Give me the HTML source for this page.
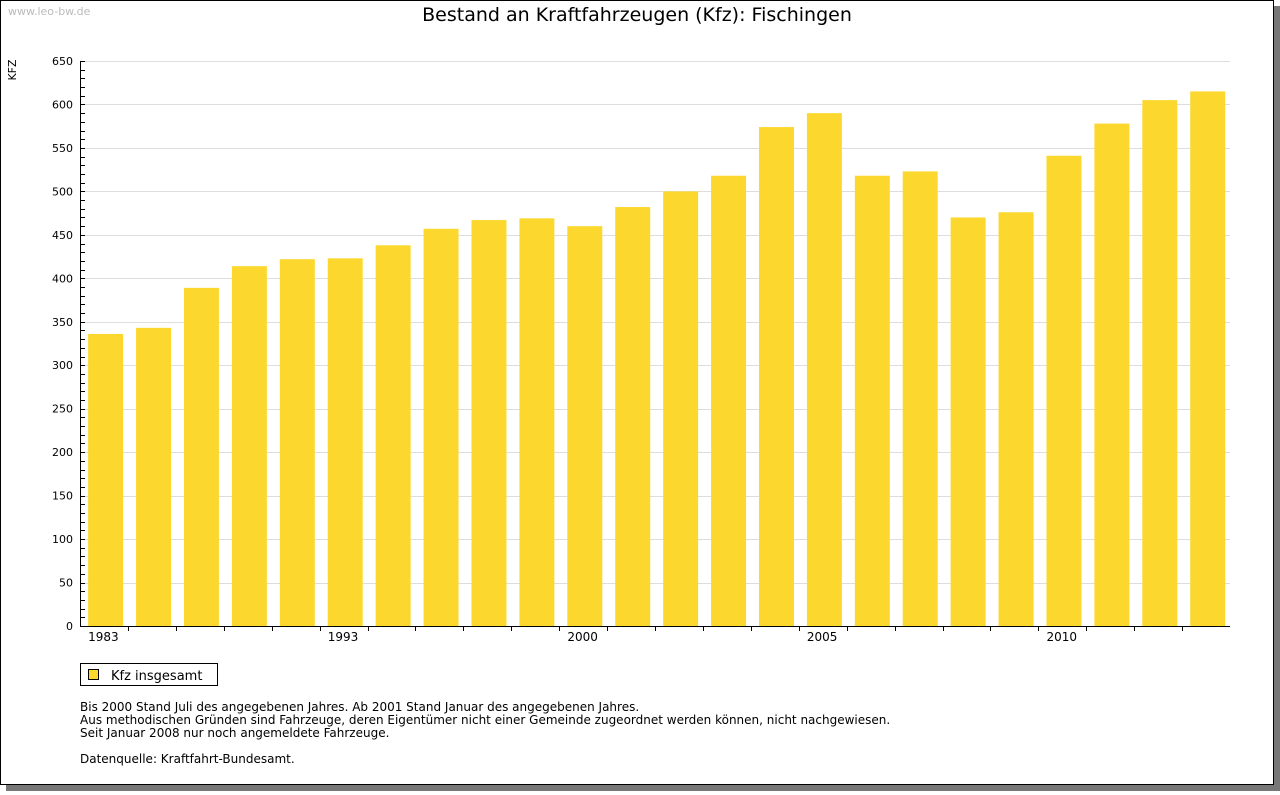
<!DOCTYPE html>
<html><head><meta charset="utf-8"><style>
body{margin:0;background:#fff;width:1280px;height:791px;overflow:hidden;font-family:"DejaVu Sans","Liberation Sans",sans-serif;}
</style></head><body>
<svg width="1280" height="791" font-family="DejaVu Sans, Liberation Sans, sans-serif">
<rect x="6" y="6" width="1274" height="785" fill="#777"/>
<rect x="0.5" y="0.5" width="1273" height="784" fill="#fff" stroke="#000"/>
<text x="8" y="15" font-size="11" fill="#bbb">www.leo-bw.de</text>
<text x="637" y="21" font-size="19" text-anchor="middle">Bestand an Kraftfahrzeugen (Kfz): Fischingen</text>
<text transform="translate(16,70) rotate(-90)" font-size="11" text-anchor="middle">KFZ</text>
<g id="grid"></g><g id="bars"></g><g id="axes"></g>
<rect x="80.5" y="663.5" width="137" height="22" fill="#fff" stroke="#000"/>
<rect x="88.5" y="669.5" width="10" height="10" fill="#fcd82f" stroke="#000"/>
<text x="111" y="680" font-size="13">Kfz insgesamt</text>
<g font-size="12">
<text x="80" y="711">Bis 2000 Stand Juli des angegebenen Jahres. Ab 2001 Stand Januar des angegebenen Jahres.</text>
<text x="80" y="724">Aus methodischen Gründen sind Fahrzeuge, deren Eigentümer nicht einer Gemeinde zugeordnet werden können, nicht nachgewiesen.</text>
<text x="80" y="737">Seit Januar 2008 nur noch angemeldete Fahrzeuge.</text>
<text x="80" y="763">Datenquelle: Kraftfahrt-Bundesamt.</text>
</g>
</svg>
<script>
const categories=["1983","1985","1987","1989","1991","1993","1995","1996","1997","1998","2000","2001","2002","2003","2004","2005","2006","2007","2008","2009","2010","2011","2012","2013"];
const values=[336,343,389,414,422,423,438,457,467,469,460,482,500,518,574,590,518,523,470,476,541,578,605,615];
const xLabels=["1983","1993","2000","2005","2010"];
const yTicks=[0,50,100,150,200,250,300,350,400,450,500,550,600,650];
const NS="http://www.w3.org/2000/svg";
const X0=80,X1=1230,Y0=626,Y1=61,YMAX=650;
const band=(X1-X0)/categories.length;
const y=v=>Y0-(v/YMAX)*(Y0-Y1);
const x=i=>X0+i*band;
function mk(t,a,p){const e=document.createElementNS(NS,t);for(const k in a)e.setAttribute(k,a[k]);document.getElementById(p).appendChild(e);return e;}
yTicks.forEach(v=>{
 if(v>0){const g=mk('line',{x1:X0,x2:X1,y1:Math.round(y(v))+.5,y2:Math.round(y(v))+.5,stroke:'#ddd'},'grid');
 
 }
 const t=mk('text',{x:73,y:y(v)+4,'font-size':11,'text-anchor':'end'},'axes');t.textContent=v;
 
 
});
for(let v=0;v<=YMAX;v+=10){mk('line',{x1:X0,x2:X0+5,y1:Math.round(y(v))+.5,y2:Math.round(y(v))+.5,stroke:'#000'},'axes');}
values.forEach((v,i)=>{
 const r=mk('rect',{x:x(i)+band*0.17,y:y(v),width:band*0.73,height:Y0-y(v),fill:'#fcd82f'},'bars');
 
 
 if(i>0)mk('line',{x1:Math.round(x(i))+.5,x2:Math.round(x(i))+.5,y1:Y0,y2:Y0+5,stroke:'#000'},'axes');
 if(xLabels.includes(categories[i])){
  const t=mk('text',{x:x(i)+band*0.17,y:Y0+15,'font-size':12},'axes');t.textContent=categories[i];
  
  
 }
});
mk('line',{x1:X0+.5,x2:X0+.5,y1:Y1,y2:Y0+.5,stroke:'#000'},'axes');
mk('line',{x1:X0,x2:X1,y1:Y0+.5,y2:Y0+.5,stroke:'#000'},'axes');
</script>
</body></html>
